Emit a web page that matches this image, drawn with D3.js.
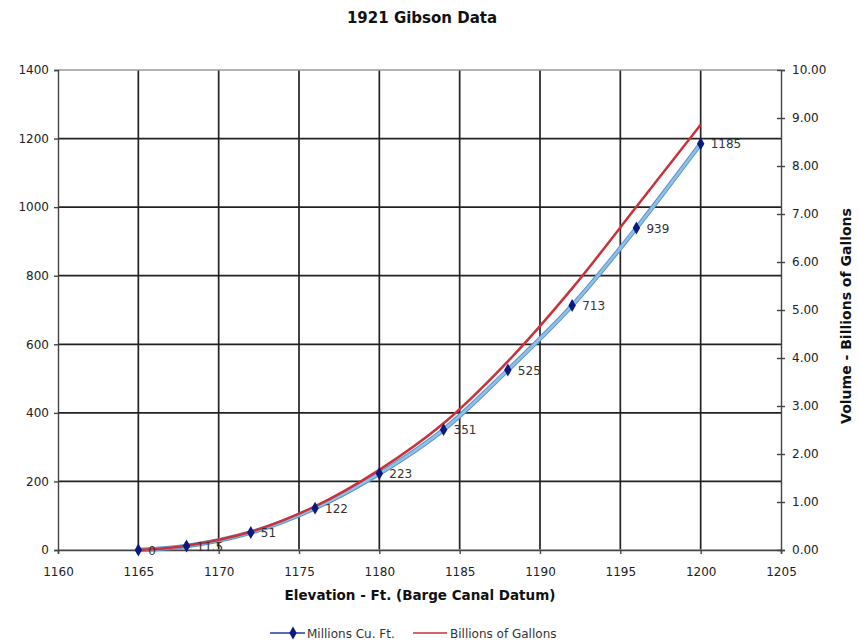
<!DOCTYPE html>
<meta charset="utf-8">
<style>
  body { margin: 0; background: #fff; }
  text { font-family: "DejaVu Sans", Verdana, sans-serif; }
</style>
<script src="https://d3js.org/d3.v7.min.js"></script>
<div id="chart"></div>
<script>
// elevation (ft) and the two volume series
var elevations = [1165, 1168, 1172, 1176, 1180, 1184, 1188, 1192, 1196, 1200];
var millionsCuFt = [0, 11.5, 51, 122, 223, 351, 525, 713, 939, 1185];
var billionsGal = [0, 0.09, 0.38, 0.91, 1.67, 2.64, 3.93, 5.45, 7.15, 8.86];
var pointLabels = ["0", "11.5", "51", "122", "223", "351", "525", "713", "939", "1185"];

var xTicks = [1160, 1165, 1170, 1175, 1180, 1185, 1190, 1195, 1200, 1205];
var leftTicks = [0, 200, 400, 600, 800, 1000, 1200, 1400];
var rightTicks = [0, 1, 2, 3, 4, 5, 6, 7, 8, 9, 10];

var W = 859, H = 641;
// plot box (note: "top" is a reserved window property, so use other names)
var pLeft = 58, pRight = 781, pTop = 70, pBottom = 550;

var svg = d3.select("#chart").append("svg")
  .attr("width", W).attr("height", H);

var x = d3.scaleLinear().domain([1160, 1205]).range([pLeft, pRight]);
var yL = d3.scaleLinear().domain([0, 1400]).range([pBottom, pTop]);
var yR = d3.scaleLinear().domain([0, 10]).range([pBottom, pTop]);

// title
svg.append("text")
  .attr("x", 422).attr("y", 23)
  .attr("text-anchor", "middle")
  .style("font-size", "15px").style("font-weight", "bold").attr("fill", "#111")
  .text("1921 Gibson Data");

// grid
var grid = svg.append("g");
grid.selectAll(".hg").data(leftTicks.filter(function(d) { return d > 0 && d < 1400; }))
  .enter().append("line")
  .attr("x1", pLeft).attr("x2", pRight)
  .attr("y1", function(d) { return yL(d); }).attr("y2", function(d) { return yL(d); })
  .attr("stroke", "#222").attr("stroke-width", 1.7);
grid.selectAll(".vg").data(xTicks.filter(function(d) { return d > 1160 && d < 1205; }))
  .enter().append("line")
  .attr("y1", pTop).attr("y2", pBottom)
  .attr("x1", function(d) { return x(d); }).attr("x2", function(d) { return x(d); })
  .attr("stroke", "#222").attr("stroke-width", 1.7);
// top and bottom borders lighter
grid.append("line").attr("x1", pLeft).attr("x2", pRight).attr("y1", pTop).attr("y2", pTop)
  .attr("stroke", "#999").attr("stroke-width", 1.7);
grid.append("line").attr("x1", pLeft).attr("x2", pRight).attr("y1", pBottom).attr("y2", pBottom)
  .attr("stroke", "#aaa").attr("stroke-width", 1.7);

// axes
var axisL = svg.append("g").attr("transform", "translate(" + pLeft + ",0)")
  .call(d3.axisLeft(yL).tickValues(leftTicks).tickSize(4).tickFormat(d3.format("d")));
var axisR = svg.append("g").attr("transform", "translate(" + pRight + ",0)")
  .call(d3.axisRight(yR).tickValues(rightTicks).tickSize(4).tickFormat(d3.format(".2f")));
var axisB = svg.append("g").attr("transform", "translate(0," + pBottom + ")")
  .call(d3.axisBottom(x).tickValues(xTicks).tickSize(4).tickFormat(d3.format("d")));
[axisL, axisR, axisB].forEach(function(a) {
  a.select(".domain").attr("stroke", "#444").attr("stroke-width", 1.4);
  a.selectAll(".tick line").attr("stroke", "#444").attr("stroke-width", 1.4);
  a.selectAll(".tick text").style("font-size", "12px").attr("fill", "#222")
    .style("font-family", "\"DejaVu Sans\", Verdana, sans-serif");
});
axisR.selectAll(".tick line").attr("x1", -4).attr("x2", 4);
axisR.selectAll(".tick text").attr("x", 11);
axisL.selectAll(".tick text").attr("x", -9);
axisB.selectAll(".tick line").attr("y1", 0).attr("y2", 4);
axisB.selectAll(".tick text").attr("y", 17);

// axis titles
svg.append("text")
  .attr("x", 420).attr("y", 600)
  .attr("text-anchor", "middle")
  .style("font-size", "13.5px").style("font-weight", "bold").attr("fill", "#111")
  .text("Elevation - Ft. (Barge Canal Datum)");
svg.append("text")
  .attr("transform", "translate(851,316) rotate(-90)")
  .attr("text-anchor", "middle")
  .style("font-size", "14px").style("font-weight", "bold").attr("fill", "#111")
  .text("Volume - Billions of Gallons");

// lines
var blueData = elevations.map(function(e, i) { return [e, millionsCuFt[i]]; });
var redData = elevations.map(function(e, i) { return [e, billionsGal[i]]; });

var lineL = d3.line().x(function(d) { return x(d[0]); }).y(function(d) { return yL(d[1]); })
  .curve(d3.curveCatmullRom);
var lineR = d3.line().x(function(d) { return x(d[0]); }).y(function(d) { return yR(d[1]); })
  .curve(d3.curveCatmullRom);

svg.append("path").datum(blueData).attr("d", lineL)
  .attr("fill", "none").attr("stroke", "#5f93c9").attr("stroke-width", 4.5);
svg.append("path").datum(blueData).attr("d", lineL)
  .attr("fill", "none").attr("stroke", "#8fc0ea").attr("stroke-width", 2.5);
svg.append("path").datum(redData).attr("d", lineR)
  .attr("fill", "none").attr("stroke", "#c8323a").attr("stroke-width", 2.5);

// markers
var diamond = d3.symbol().type(d3.symbolDiamond).size(48);
svg.selectAll(".pt").data(blueData).enter().append("path")
  .attr("d", diamond)
  .attr("transform", function(d) { return "translate(" + x(d[0]) + "," + yL(d[1]) + ")"; })
  .attr("fill", "#0a1a80");

// point labels
svg.selectAll(".lbl").data(blueData).enter().append("text")
  .attr("x", function(d) { return x(d[0]) + 10; })
  .attr("y", function(d) { return yL(d[1]) + 4.5; })
  .style("font-size", "12px").attr("fill", "#333")
  .text(function(d, i) { return pointLabels[i]; });

// legend
var lg = svg.append("g").attr("transform", "translate(0,633)");
lg.append("line").attr("x1", 270).attr("x2", 305).attr("y1", 0).attr("y2", 0)
  .attr("stroke", "#1f3f9f").attr("stroke-width", 1.5);
lg.append("path").attr("d", diamond).attr("transform", "translate(293,0)").attr("fill", "#0a1a80");
lg.append("text").attr("x", 307).attr("y", 4.5).style("font-size", "12px").attr("fill", "#333")
  .text("Millions Cu. Ft.");
lg.append("line").attr("x1", 413).attr("x2", 447).attr("y1", 0).attr("y2", 0)
  .attr("stroke", "#c8323a").attr("stroke-width", 1.5);
lg.append("text").attr("x", 450).attr("y", 4.5).style("font-size", "12px").attr("fill", "#333")
  .text("Billions of Gallons");
</script>
